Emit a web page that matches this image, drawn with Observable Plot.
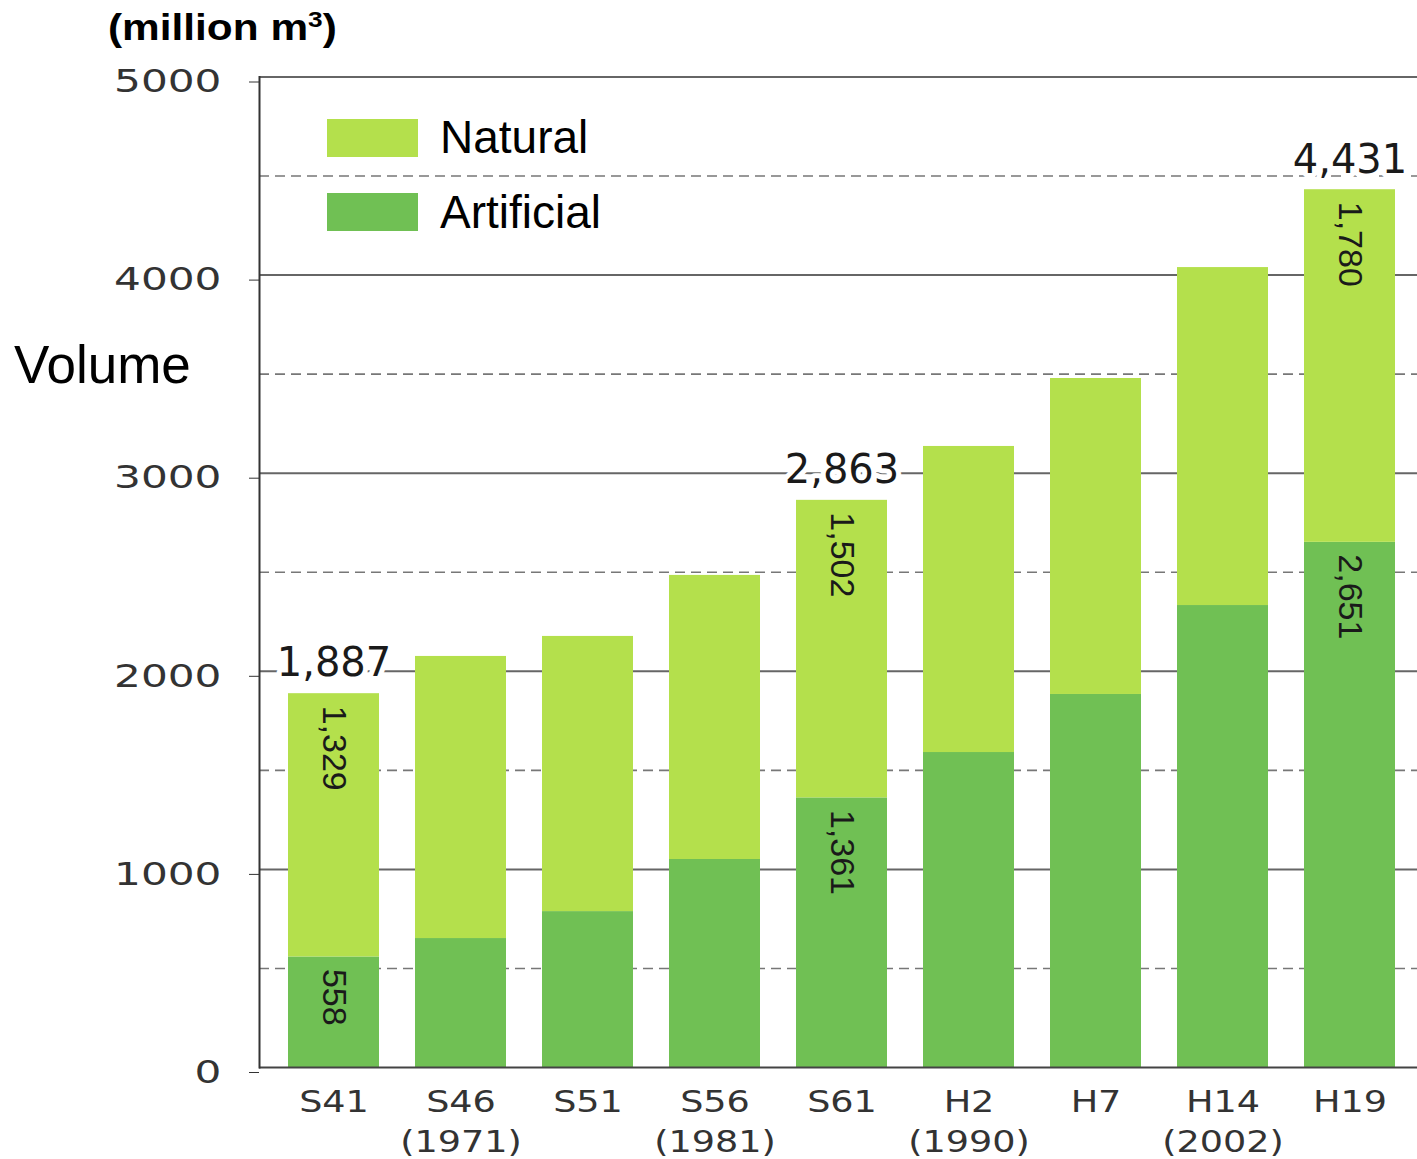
<!DOCTYPE html>
<html>
<head>
<meta charset="utf-8">
<script src="https://cdn.jsdelivr.net/npm/d3@7"></script>
<script src="https://cdn.jsdelivr.net/npm/@observablehq/plot@0.6"></script>
<style>
  html, body { margin: 0; padding: 0; background: #fff; overflow: hidden; }
  #wrap { position: relative; width: 1417px; height: 1159px; }
  #wrap svg { position: absolute; left: 0; top: 0; }
  .ov { position: absolute; white-space: nowrap; color: #000; }
  #title { left: 108px; top: 9px; font: bold 37px/37px "Liberation Sans", Arial, sans-serif; transform: scaleX(1.145); transform-origin: left top; }
  #title .sup { font-size: 0.62em; position: relative; top: -0.55em; }
  #ylabel { left: 14px; top: 338px; font: 53px/53px "Liberation Sans", Arial, sans-serif; }
  .leg { position: absolute; left: 327px; width: 91px; height: 38px; }
  .legtxt { left: 440px; font: 46px/46px "Liberation Sans", Arial, sans-serif; }
</style>
</head>
<body>
<div id="wrap"></div>
<script>
// ---- data ----
const categories = ["S41", "S46", "S51", "S56", "S61", "H2", "H7", "H14", "H19"];
const yearNotes  = ["", "(1971)", "", "(1981)", "", "(1990)", "", "(2002)", ""];
const artificial = [558, 651, 787, 1050, 1361, 1590, 1883, 2332, 2651];
const natural    = [1329, 1424, 1389, 1434, 1502, 1545, 1595, 1706, 1780];
const seriesNames  = ["Natural", "Artificial"];
const seriesColors = ["#b4e04c", "#70c054"];
const labelledBars = ["S41", "S61", "H19"];
const yTicks     = [0, 1000, 2000, 3000, 4000, 5000];
const majorGrid  = [1000, 2000, 3000, 4000, 5000];
const minorGrid  = [500, 1500, 2500, 3500, 4500];

// ---- derived tables ----
const rows = categories.flatMap((c, i) => [
  {cat: c, series: "Artificial", value: artificial[i]},
  {cat: c, series: "Natural", value: natural[i]}
]);
const fmt = d3.format(",");
const totals = labelledBars.map(c => {
  const i = categories.indexOf(c);
  return {cat: c, total: artificial[i] + natural[i]};
});
const segLabels = labelledBars.flatMap(c => {
  const i = categories.indexOf(c);
  return [
    {cat: c, top: artificial[i] + natural[i], label: fmt(natural[i])},
    {cat: c, top: artificial[i], label: fmt(artificial[i])}
  ];
});

const W = 1417, H = 1159;
const chart = Plot.plot({
  width: W,
  height: H,
  marginTop: 76.5,
  marginBottom: 92,
  marginLeft: 259,
  marginRight: 0,
  style: {fontFamily: "'DejaVu Sans', sans-serif", background: "white", overflow: "visible"},
  x: {domain: categories, range: [258, 1424.6], paddingInner: 0.286, paddingOuter: 0.22},
  y: {domain: [0, 5000]},
  color: {domain: seriesNames, range: seriesColors},
  marks: [
    Plot.ruleY(minorGrid, {stroke: "#777", strokeWidth: 1.6, strokeDasharray: "10,6"}),
    Plot.ruleY(majorGrid, {stroke: "#666", strokeWidth: 2}),
    Plot.barY(rows, {x: "cat", y: "value", fill: "series", order: ["Artificial", "Natural"]}),
    Plot.ruleY([0], {stroke: "#444", strokeWidth: 2}),
    Plot.frame({anchor: "left", stroke: "#333", strokeWidth: 2}),
    Plot.axisY({ticks: yTicks, tickSize: 10, tickPadding: 28, fontSize: 32, dy: 5,
                tickFormat: d => String(d), color: "#333", label: null}),
    Plot.axisX({tickSize: 0, tickPadding: 15, fontSize: 31, lineHeight: 1.32, color: "#333", label: null,
                tickFormat: d => {
                  const n = yearNotes[categories.indexOf(d)];
                  return n ? d + "\n" + n : d;
                }}),
    Plot.text(totals, {x: "cat", y: "total", text: d => fmt(d.total), dy: -30, fontSize: 40,
                       fill: "#1a1a1a", stroke: "white", strokeWidth: 10, paintOrder: "stroke"}),
    Plot.text(segLabels, {x: "cat", y: "top", text: "label", rotate: 90, textAnchor: "start",
                          dy: 12, fontSize: 34, fontFamily: "'Liberation Sans', Arial, sans-serif",
                          fill: "#1a1a1a"})
  ]
});

const wrap = document.getElementById("wrap");
wrap.appendChild(chart);

// horizontally widen the axis tick lettering, as in the reference
function stretchX(t, f) {
  const tr = t.getAttribute("transform");
  if (tr) {
    t.setAttribute("transform", tr + ` scale(${f},1)`);
  } else {
    const x = +(t.getAttribute("x") || 0), y = +(t.getAttribute("y") || 0);
    t.setAttribute("x", 0); t.setAttribute("y", 0);
    t.querySelectorAll("tspan").forEach(s => { if (s.hasAttribute("x")) s.setAttribute("x", +s.getAttribute("x") - x); });
    t.setAttribute("transform", `translate(${x},${y}) scale(${f},1)`);
  }
}
chart.querySelectorAll('g[aria-label="y-axis tick label"] text').forEach(t => stretchX(t, 1.32));
chart.querySelectorAll('g[aria-label="x-axis tick label"] text').forEach(t => stretchX(t, 1.18));

// title, axis name and legend
const title = document.createElement("div");
title.id = "title"; title.className = "ov";
title.innerHTML = '(million m<span class="sup">3</span>)';
wrap.appendChild(title);

const ylab = document.createElement("div");
ylab.id = "ylabel"; ylab.className = "ov";
ylab.textContent = "Volume";
wrap.appendChild(ylab);

const legendTops = [119, 193];
const legendTextTops = [114, 189];
seriesNames.forEach((name, i) => {
  const sw = document.createElement("div");
  sw.className = "leg";
  sw.style.top = legendTops[i] + "px";
  sw.style.background = seriesColors[i];
  wrap.appendChild(sw);
  const tx = document.createElement("div");
  tx.className = "ov legtxt";
  tx.style.top = legendTextTops[i] + "px";
  tx.textContent = name;
  wrap.appendChild(tx);
});
</script>
</body>
</html>
